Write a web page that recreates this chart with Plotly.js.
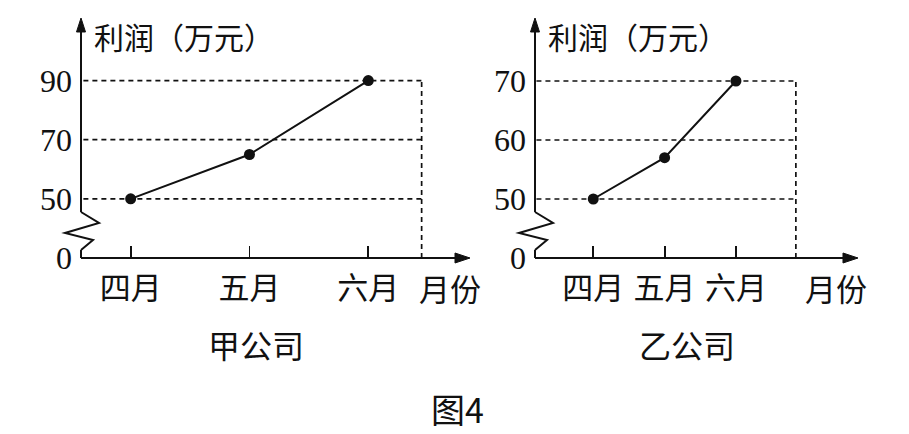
<!DOCTYPE html>
<html>
<head>
<meta charset="utf-8">
<script src="https://cdn.plot.ly/plotly-3.0.1.min.js"></script>
<style>html,body{margin:0;padding:0;background:#fff;}#chart{width:909px;height:434px;}</style>
</head>
<body>
<div id="chart"></div>
<script>
// ---- data ----
const months = ['四月', '五月', '六月'];
const profitJia = [50, 65, 90];   // 甲公司
const profitYi  = [50, 57, 70];   // 乙公司
const yTickValsJia = [30, 50, 70, 90];
const yTickTextJia = ['0', '50', '70', '90'];
const yTickValsYi  = [40, 50, 60, 70];
const yTickTextYi  = ['0', '50', '60', '70'];
const yTitle = '利润（万元）';
const xTitle = '月份';
const companyJia = '甲公司';
const companyYi = '乙公司';
const figTitle = '图4';

// ---- geometry ----
const W = 909, H = 434;
const CJK = 'Noto Sans CJK SC, sans-serif';
const SERIF = 'Liberation Serif, Times New Roman, serif';
const ink = '#111';
const plotTop = 18, plotBottom = 258, plotH = plotBottom - plotTop;

const subs = [
  {xa: 'x', ya: 'y', left: 81, right: 470, xr: [-0.418, 2.856], yr: [30, 111.16], border: 2.449,
   vals: profitJia, tv: yTickValsJia, tt: yTickTextJia, name: companyJia, unitX: 450, titleX: 92, compX: 256},
  {xa: 'x2', ya: 'y2', left: 535, right: 858, xr: [-0.817, 3.711], yr: [40, 80.68], border: 2.84,
   vals: profitYi, tv: yTickValsYi, tt: yTickTextYi, name: companyYi, unitX: 836, titleX: 546, compX: 687}
];

const xIdx = months.map((_, i) => i);
const data = [], shapes = [], annotations = [];
const layout = {
  width: W, height: H, margin: {l: 0, r: 0, t: 0, b: 0},
  paper_bgcolor: '#fff', plot_bgcolor: 'rgba(0,0,0,0)', showlegend: false
};

subs.forEach((s, k) => {
  const sfx = k === 0 ? '' : '2';
  const dW = s.right - s.left;
  layout['xaxis' + sfx] = {
    domain: [s.left / W, s.right / W], range: s.xr, anchor: 'y' + sfx,
    tickvals: xIdx, ticktext: months, ticks: 'inside', ticklen: 12, tickwidth: 1.8, tickcolor: ink,
    showgrid: false, zeroline: false, showline: false, fixedrange: true,
    tickfont: {family: CJK, size: 31, color: ink}, ticklabelstandoff: 9
  };
  layout['yaxis' + sfx] = {
    domain: [(H - plotBottom) / H, (H - plotTop) / H], range: s.yr, anchor: 'x' + sfx,
    tickvals: s.tv, ticktext: s.tt, ticks: '', showgrid: false, zeroline: false, showline: false,
    fixedrange: true, tickfont: {family: SERIF, size: 32, color: ink}, ticklabelstandoff: 8
  };
  data.push({
    x: xIdx, y: s.vals, xaxis: s.xa, yaxis: s.ya, type: 'scatter', mode: 'lines+markers',
    line: {color: ink, width: 2}, marker: {color: ink, size: 11}, cliponaxis: false, hoverinfo: 'skip'
  });
  const xd = s.xa + ' domain', yd = s.ya + ' domain';
  const fx = p => (p / dW).toFixed(5);       // pixel offset -> x domain fraction
  const fy = p => (p / plotH).toFixed(5);    // pixel offset (up) -> y domain fraction
  const axisLine = {color: ink, width: 2};
  // y axis with break
  shapes.push({type: 'line', xref: xd, yref: yd, x0: 0, x1: 0, y0: fy(46), y1: fy(plotH - 10), line: axisLine});
  shapes.push({type: 'path', xref: xd, yref: yd, line: axisLine,
    path: `M0,${fy(46)} L${fx(18)},${fy(35)} L${fx(-16)},${fy(25)} L${fx(12)},${fy(18)} L0,${fy(8)}`});
  shapes.push({type: 'line', xref: xd, yref: yd, x0: 0, x1: 0, y0: 0, y1: fy(8), line: axisLine});
  shapes.push({type: 'path', xref: xd, yref: yd, fillcolor: ink, line: {color: ink, width: 1},
    path: `M0,1 L${fx(-4.5)},${fy(plotH - 14)} L${fx(4.5)},${fy(plotH - 14)} Z`});
  // x axis
  shapes.push({type: 'line', xref: xd, yref: yd, x0: 0, x1: fx(dW - 8), y0: 0, y1: 0, line: axisLine});
  shapes.push({type: 'path', xref: xd, yref: yd, fillcolor: ink, line: {color: ink, width: 1},
    path: `M1,0 L${fx(dW - 15)},${fy(5)} L${fx(dW - 15)},${fy(-5)} Z`});
  // dashed guide lines
  const dash = {color: ink, width: 1.7, dash: '5px,4px'};
  s.tv.slice(1).forEach(v => {
    shapes.push({type: 'line', xref: s.xa, yref: s.ya, x0: s.xr[0] + 0.02, x1: s.border, y0: v, y1: v, line: dash});
  });
  shapes.push({type: 'line', xref: s.xa, yref: s.ya, x0: s.border, x1: s.border,
    y0: s.yr[0], y1: s.tv[s.tv.length - 1], line: dash});
  // texts
  annotations.push({text: yTitle, xref: 'paper', yref: 'paper', x: s.titleX / W, y: 1 - 36 / H,
    xanchor: 'left', yanchor: 'middle', showarrow: false, font: {family: CJK, size: 30, color: ink}});
  annotations.push({text: xTitle, xref: 'paper', yref: 'paper', x: s.unitX / W, y: 1 - 287 / H,
    xanchor: 'center', yanchor: 'middle', showarrow: false, font: {family: CJK, size: 31, color: ink}});
  annotations.push({text: s.name, xref: 'paper', yref: 'paper', x: s.compX / W, y: 1 - 344 / H,
    xanchor: 'center', yanchor: 'middle', showarrow: false, font: {family: CJK, size: 32, color: ink}});
});
annotations.push({text: figTitle, xref: 'paper', yref: 'paper', x: 457 / W, y: 1 - 408 / H,
  xanchor: 'center', yanchor: 'middle', showarrow: false, font: {family: CJK, size: 34, color: ink}});

layout.shapes = shapes;
layout.annotations = annotations;
Plotly.newPlot('chart', data, layout, {displayModeBar: false, staticPlot: true});
</script>
</body>
</html>
